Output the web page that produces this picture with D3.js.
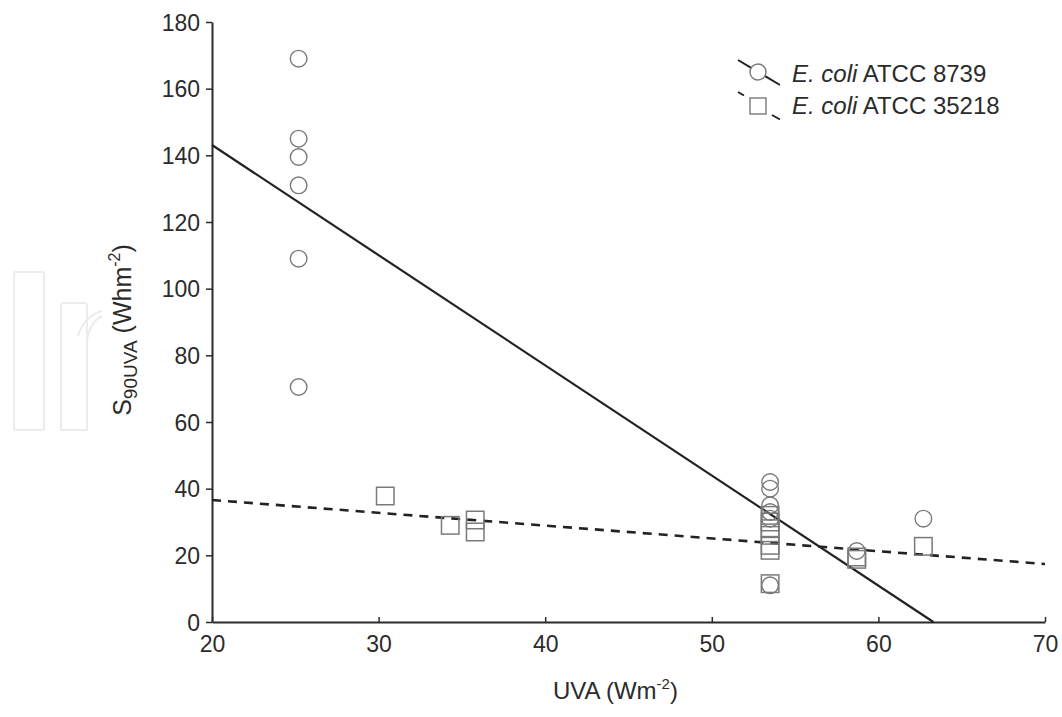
<!DOCTYPE html>
<html>
<head>
<meta charset="utf-8">
<script src="https://cdn.jsdelivr.net/npm/d3@7"></script>
<style>
  html, body { margin: 0; padding: 0; background: #fff; }
  svg { display: block; font-family: "Liberation Sans", Arial, sans-serif; }
</style>
</head>
<body>
<svg id="chart" width="1062" height="717"></svg>
<script>
// ---- data ----
const xTicks = [20, 30, 40, 50, 60, 70];
const yTicks = [0, 20, 40, 60, 80, 100, 120, 140, 160, 180];

// E. coli ATCC 8739 (circles)
const strainA_x = [25.2, 25.2, 25.2, 25.2, 25.2, 25.2, 53.5, 53.5, 53.5, 53.5, 53.5, 53.5, 58.7, 62.7];
const strainA_y = [169, 145, 139.5, 131, 109, 70.5, 42, 40, 35, 33, 31, 11, 21.3, 31];

// E. coli ATCC 35218 (squares)
const strainB_x = [30.4, 34.3, 35.8, 35.8, 53.5, 53.5, 53.5, 53.5, 53.5, 53.5, 53.5, 58.7, 58.7, 62.7];
const strainB_y = [37.8, 29, 30.6, 27, 32, 30, 28, 26, 23, 21.5, 11.5, 19.5, 18.8, 22.7];

// regression lines (endpoints)
const fitA_x = [20, 63.3];
const fitA_y = [143.1, 0];
const fitB_x = [20, 70];
const fitB_y = [36.6, 17.4];

const legendLabels = [["E. coli", " ATCC 8739"], ["E. coli", " ATCC 35218"]];

// ---- layout ----
const svg = d3.select("#chart");
const margin = {left: 212, right: 17, top: 22, bottom: 95};
const W = 1062, H = 717;
const x = d3.scaleLinear().domain([20, 70]).range([margin.left, W - margin.right]);
const y = d3.scaleLinear().domain([0, 180]).range([H - margin.bottom, margin.top]);
const ink = "#2b2b2b";
const markColor = "#7a7a7a";

// watermark (faint logo outlines)
const wm = svg.append("g").attr("fill", "none").attr("stroke", "#ececec").attr("stroke-width", 2);
wm.append("rect").attr("x", 14).attr("y", 272).attr("width", 30).attr("height", 158).attr("rx", 2);
wm.append("path").attr("d", "M61,430 L61,306 Q61,303 64,303 L84,303 Q87,303 87,306 L87,430 Z M87,340 Q90,322 102,316 M78,336 Q84,316 102,311");

// axes
const xAxis = d3.axisBottom(x).tickValues(xTicks).tickSize(-5).tickPadding(14).tickSizeOuter(0);
const gx = svg.append("g").attr("transform", `translate(0,${y(0)})`).call(xAxis);
const yAxis = d3.axisLeft(y).tickValues(yTicks).tickSize(6).tickPadding(6).tickSizeOuter(0);
const gy = svg.append("g").attr("transform", `translate(${x(20)},0)`).call(yAxis);
[gx, gy].forEach(g => {
  g.select(".domain").attr("stroke", ink).attr("stroke-width", 2);
  g.selectAll(".tick line").attr("stroke", ink).attr("stroke-width", 1.5);
  g.selectAll(".tick text").attr("fill", ink).attr("font-size", 23)
    .attr("font-family", "'Liberation Sans', Arial, sans-serif");
});
gy.selectAll(".tick text").attr("dy", "0.35em");

// regression lines
const line = d3.line().x(d => x(d[0])).y(d => y(d[1]));
svg.append("path").datum(d3.zip(fitA_x, fitA_y)).attr("d", line)
  .attr("fill", "none").attr("stroke", "#222").attr("stroke-width", 2.2);
svg.append("path").datum(d3.zip(fitB_x, fitB_y)).attr("d", line)
  .attr("fill", "none").attr("stroke", "#222").attr("stroke-width", 2.6)
  .attr("stroke-dasharray", "9,7");

// points
svg.append("g").selectAll("circle").data(d3.zip(strainA_x, strainA_y)).join("circle")
  .attr("cx", d => x(d[0])).attr("cy", d => y(d[1])).attr("r", 8.3)
  .attr("fill", "none").attr("stroke", markColor).attr("stroke-width", 1.4);
const sq = 17.5;
svg.append("g").selectAll("rect").data(d3.zip(strainB_x, strainB_y)).join("rect")
  .attr("x", d => x(d[0]) - sq / 2).attr("y", d => y(d[1]) - sq / 2)
  .attr("width", sq).attr("height", sq)
  .attr("fill", "none").attr("stroke", markColor).attr("stroke-width", 1.5);

// axis titles
const xt = svg.append("text").attr("x", 553).attr("y", 699).attr("text-anchor", "start")
  .attr("font-size", 24).attr("fill", ink);
xt.append("tspan").text("UVA (Wm");
xt.append("tspan").attr("font-size", 15).attr("dy", -10).text("-2");
xt.append("tspan").attr("dy", 10).text(")");

const yt = svg.append("text").attr("transform", "translate(131,330) rotate(-90)")
  .attr("text-anchor", "middle").attr("font-size", 25).attr("fill", ink);
yt.append("tspan").text("S");
yt.append("tspan").attr("font-size", 19).attr("dy", 6).text("90UVA");
yt.append("tspan").attr("dy", -6).text(" (Whm");
yt.append("tspan").attr("font-size", 16).attr("dy", -11).text("-2");
yt.append("tspan").attr("dy", 11).text(")");

// legend
const lg = svg.append("g");
// item 1: solid line through circle
lg.append("line").attr("x1", 738).attr("y1", 60).attr("x2", 780).attr("y2", 85)
  .attr("stroke", "#222").attr("stroke-width", 2);
lg.append("circle").attr("cx", 758).attr("cy", 72).attr("r", 8)
  .attr("fill", "#fff").attr("stroke", markColor).attr("stroke-width", 1.4);
// item 2: dashed line with square
lg.append("line").attr("x1", 738).attr("y1", 92).attr("x2", 744).attr("y2", 95.5)
  .attr("stroke", "#222").attr("stroke-width", 2);
lg.append("rect").attr("x", 750).attr("y", 98).attr("width", 16).attr("height", 16)
  .attr("fill", "#fff").attr("stroke", markColor).attr("stroke-width", 1.4);
lg.append("line").attr("x1", 772).attr("y1", 115).attr("x2", 780).attr("y2", 119.5)
  .attr("stroke", "#222").attr("stroke-width", 2);
legendLabels.forEach((lab, i) => {
  const t = lg.append("text").attr("x", 792).attr("y", 82 + i * 32)
    .attr("font-size", 24).attr("fill", ink);
  t.append("tspan").attr("font-style", "italic").text(lab[0]);
  t.append("tspan").text(lab[1]);
});
</script>
</body>
</html>
